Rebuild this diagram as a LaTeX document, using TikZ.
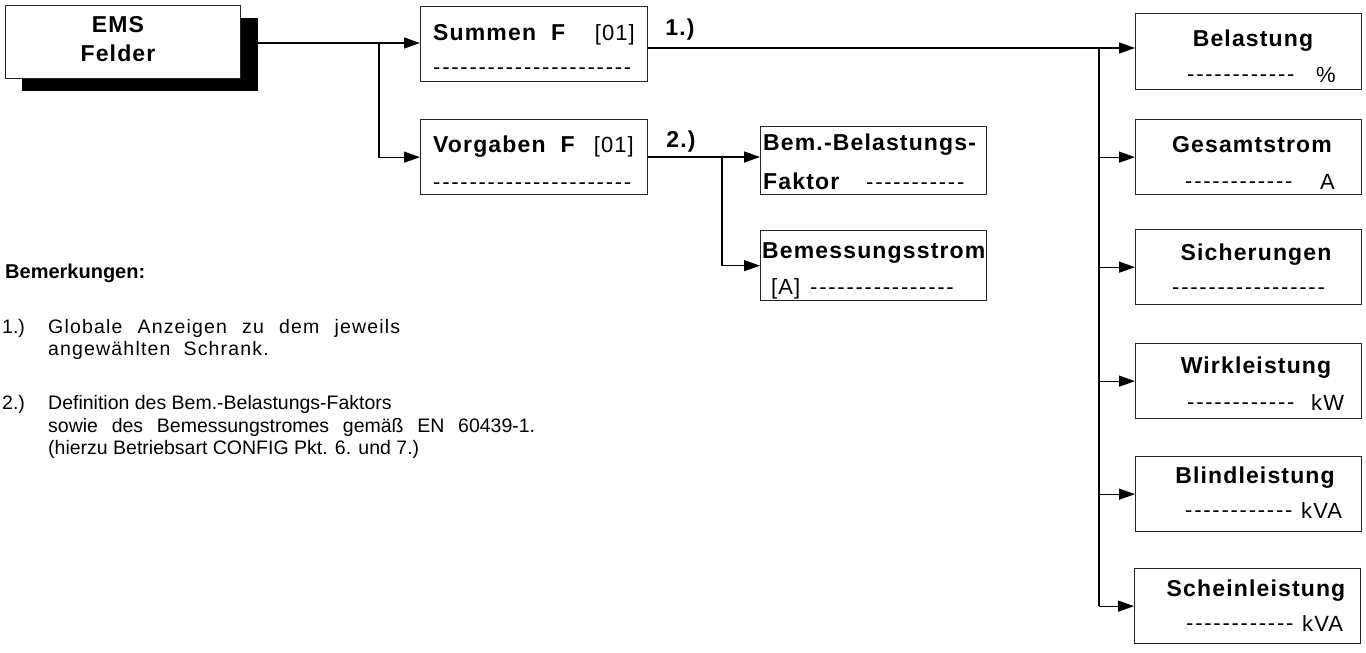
\documentclass[tikz,border=0pt]{standalone}
\usepackage{fontspec}
\setmainfont{Liberation Sans}
\newfontfamily\tfont{Liberation Sans}[LetterSpace=5]
\newfontfamily\dfont{Liberation Sans}[LetterSpace=8]
\newfontfamily\rfont{Liberation Sans}[LetterSpace=5]
\newfontfamily\lfont{Liberation Sans}[LetterSpace=6]
\usetikzlibrary{arrows.meta}
\begin{document}
\begin{tikzpicture}[x=1pt,y=-1pt,
  box/.style={draw=black!85, line width=1.3pt, fill=white, rectangle, inner sep=0pt, anchor=north west},
  ttl/.style={font=\tfont\bfseries\fontsize{23}{27}\selectfont, inner sep=0pt, anchor=base},
  ttlw/.style={ttl, anchor=base west},
  reg/.style={font=\fontsize{19.5}{24}\selectfont, inner sep=0pt, anchor=base west},
  unit/.style={font=\rfont\fontsize{22}{26}\selectfont, inner sep=0pt, anchor=base west},
  unite/.style={unit, anchor=base east},
  dsh/.style={font=\dfont\fontsize{22}{26}\selectfont, inner sep=0pt, anchor=base west},
  conn/.style={line width=1.3pt},
  arr/.style={conn, -{Triangle[length=16pt,width=11pt]}}
]
\useasboundingbox (0,0) rectangle (1366,653);

% EMS box with shadow
\node[fill=black, inner sep=0pt, minimum width=236pt, minimum height=73pt, anchor=north west] (emsshadow) at (22,18) {};
\node[box, minimum width=235pt, minimum height=73pt] (ems) at (5,5) {};
\node[ttl] (emsA) at (118,32) {EMS};
\node[ttl] (emsB) at (118,61) {Felder};

% Summen F
\node[box, minimum width=227pt, minimum height=75pt] (summen) at (420,6) {};
\node[ttlw] (summenT) at (433,40) {Summen\ \ F};
\node[unite] (summenN) at (635,40) {[01]};
\node[dsh] (summenD) at (433,74) {----------------------};

% Vorgaben F
\node[box, minimum width=227pt, minimum height=75pt] (vorgaben) at (420,119) {};
\node[ttlw] (vorgabenT) at (433,152) {Vorgaben\ \ F};
\node[unite] (vorgabenN) at (634,152) {[01]};
\node[dsh] (vorgabenD) at (433,189) {----------------------};

\node[ttl] (lab1) at (680,35) {1.)};
\node[ttl] (lab2) at (681,147) {2.)};

% Bem.-Belastungs-Faktor
\node[box, minimum width=226pt, minimum height=68pt] (bem) at (760,126) {};
\node[ttlw] (bemT) at (763,150) {Bem.-Belastungs-};
\node[ttlw] (bemF) at (763,189) {Faktor};
\node[dsh] (bemD) at (866,189) {-----------};

% Bemessungsstrom
\node[box, minimum width=226pt, minimum height=70pt] (bstrom) at (760,230) {};
\node[ttlw] (bstromT) at (762,258) {Bemessungsstrom};
\node[unit] (bstromA) at (771,294) {[A]};
\node[dsh] (bstromD) at (810,294) {----------------};

% right column
\node[box, minimum width=226pt, minimum height=76pt] (bel) at (1135,13) {};
\node[ttl] (belT) at (1253,46) {Belastung};
\node[dsh] (belD) at (1187,81) {------------};
\node[unit] (belU) at (1316,82) {\%};

\node[box, minimum width=226pt, minimum height=75pt] (ges) at (1135,119) {};
\node[ttl] (gesT) at (1252,152) {Gesamtstrom};
\node[dsh] (gesD) at (1185,188) {------------};
\node[unit] (gesU) at (1320,189) {A};

\node[box, minimum width=226pt, minimum height=75pt] (sich) at (1135,229) {};
\node[ttl] (sichT) at (1256,260) {Sicherungen};
\node[dsh] (sichD) at (1172,294) {-----------------};

\node[box, minimum width=226pt, minimum height=75pt] (wirk) at (1135,343) {};
\node[ttl] (wirkT) at (1256,373) {Wirkleistung};
\node[dsh] (wirkD) at (1187,409) {------------};
\node[unit] (wirkU) at (1311,410) {kW};

\node[box, minimum width=226pt, minimum height=75pt] (blind) at (1135,456) {};
\node[ttl] (blindT) at (1255,483) {Blindleistung};
\node[dsh] (blindD) at (1185,517) {------------};
\node[unit] (blindU) at (1301,518) {kVA};

\node[box, minimum width=226pt, minimum height=75pt] (schein) at (1134,568) {};
\node[ttl] (scheinT) at (1256,596) {Scheinleistung};
\node[dsh] (scheinD) at (1186,630) {------------};
\node[unit] (scheinU) at (1302,631) {kVA};

% connectors
\coordinate (emsout) at (258,43);
\coordinate (b1) at (379,43);
\coordinate (b2) at (1099,48);
\coordinate (b3) at (722,157);
\draw[arr] (emsout) -- (summen.west |- emsout);
\draw[arr] (b1) |- (vorgaben.west);
\draw[conn] (summen.east |- b2) -- (b2);
\draw[arr] (b2) -- (bel.west |- b2);
\draw[conn] (b2) -- (b2 |- schein.west);
\draw[arr] (b2 |- ges.west) -- (ges.west);
\draw[arr] (b2 |- sich.west) -- (sich.west);
\draw[arr] (b2 |- wirk.west) -- (wirk.west);
\draw[arr] (b2 |- blind.west) -- (blind.west);
\draw[arr] (b2 |- schein.west) -- (schein.west);
\draw[conn] (vorgaben.east |- b3) -- (b3);
\draw[arr] (b3) -- (bem.west |- b3);
\draw[arr] (b3) |- (bstrom.west);

% remarks
\node[reg, font=\bfseries\fontsize{20}{24}\selectfont] (remH) at (5,278) {Bemerkungen:};
\node[reg] (r1n) at (2,333) {1.)};
\node[reg, font=\lfont\fontsize{19.5}{24}\selectfont] (r1a) at (48,333) {\makebox[352pt][s]{Globale Anzeigen zu dem jeweils}};
\node[reg, font=\lfont\fontsize{19.5}{24}\selectfont] (r1b) at (48,355) {angewählten\ \ Schrank.};
\node[reg] (r2n) at (2,409) {2.)};
\node[reg] (r2a) at (48,409) {Definition des Bem.-Belastungs-Faktors};
\node[reg] (r2b) at (48,432) {\makebox[487pt][s]{sowie des Bemessungstromes gemäß EN 60439-1.}};
\node[reg] (r2c) at (48,454) {(hierzu Betriebsart CONFIG Pkt. 6. und 7.)};
\end{tikzpicture}
\end{document}
